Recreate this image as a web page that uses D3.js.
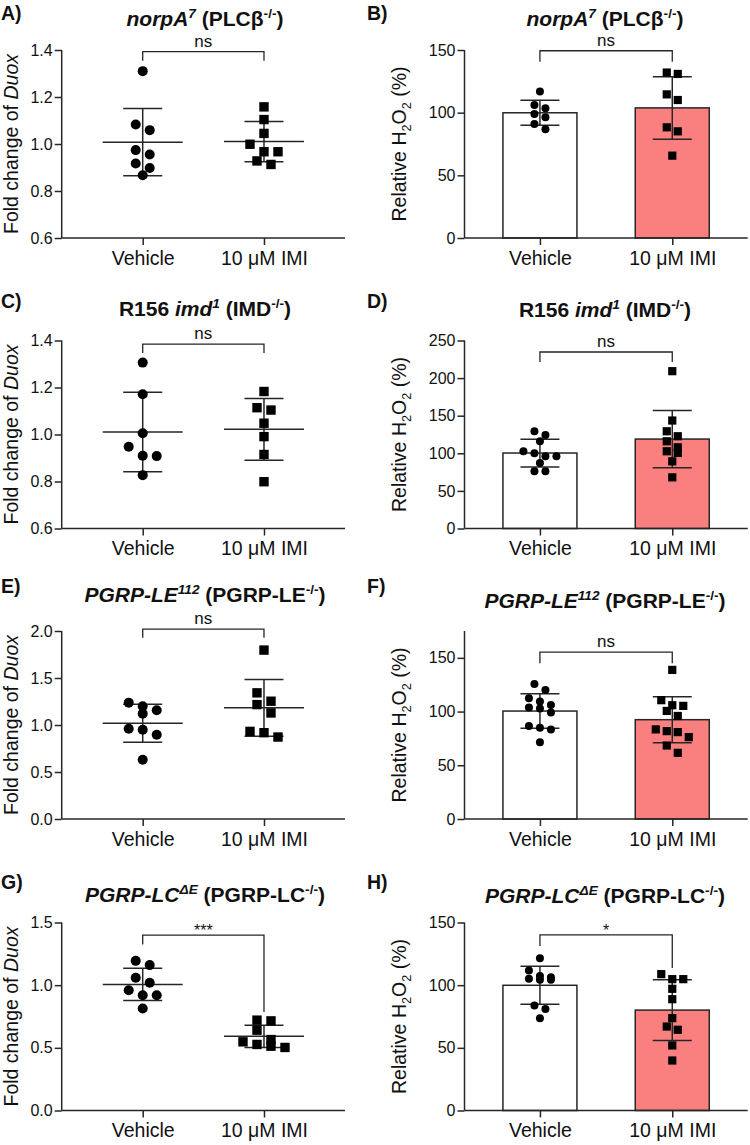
<!DOCTYPE html>
<html><head><meta charset="utf-8">
<script src="https://cdn.jsdelivr.net/npm/d3@7"></script>
<style>
body{margin:0;background:#fff}
svg{display:block}
text{font-family:"Liberation Sans", Arial, Helvetica, sans-serif;fill:#111}
</style>
</head><body>
<svg id="c" width="750" height="1145"></svg>
<script>
// ---------------- DATA ----------------
const categories = ["Vehicle", "10 μM IMI"];
const panelLetters = ["A)", "B)", "C)", "D)", "E)", "F)", "G)", "H)"];

// Fold change of Duox (left column)
const duoxNorpAVehicle = [1.31, 1.083, 1.059, 0.974, 0.955, 0.917, 0.898, 0.867];
const duoxNorpAIMI     = [1.158, 1.104, 1.045, 0.999, 0.967, 0.967, 0.928, 0.913];
const duoxImdVehicle   = [1.306, 1.171, 1.005, 0.948, 0.910, 0.908, 0.827];
const duoxImdIMI       = [1.183, 1.114, 1.104, 1.048, 0.991, 0.915, 0.799];
const duoxLEVehicle    = [1.238, 1.199, 1.157, 1.121, 0.961, 0.950, 0.897, 0.630];
const duoxLEIMI        = [1.797, 1.342, 1.253, 1.217, 1.128, 0.932, 0.918, 0.872];
const duoxLCVehicle    = [1.194, 1.160, 1.059, 1.019, 0.960, 0.920, 0.920, 0.814];
const duoxLCIMI        = [0.721, 0.715, 0.641, 0.566, 0.548, 0.527, 0.513, 0.503];

// Relative H2O2 (%) (right column)
const h2o2NorpAVehicle = [116.8, 106.1, 103.5, 98.9, 96.3, 91.0, 86.7];
const h2o2NorpAIMI     = [132.0, 130.9, 114.6, 110.1, 88.3, 85.1, 65.7];
const h2o2ImdVehicle   = [129.3, 124.5, 116.0, 102.7, 100.0, 96.0, 96.0, 87.2, 76.0, 76.0];
const h2o2ImdIMI       = [209.2, 143.6, 129.3, 122.7, 116.0, 108.0, 102.7, 100.5, 89.3, 68.0];
const h2o2LEVehicle    = [125.6, 120.0, 112.5, 109.4, 106.2, 103.8, 102.8, 99.1, 86.5, 85.0, 83.4, 71.5];
const h2o2LEIMI        = [138.8, 110.6, 105.9, 105.3, 100.6, 95.9, 83.4, 81.8, 80.9, 76.2, 68.4, 61.6];
const h2o2LCVehicle    = [121.5, 111.7, 107.4, 106.4, 105.1, 104.3, 104.3, 83.8, 80.9, 73.7];
const h2o2LCIMI        = [108.8, 104.8, 104.8, 97.1, 88.8, 73.7, 67.0, 64.4, 51.9, 39.9];

// tick labels
const ticksFoldA = [0.6, 0.8, 1.0, 1.2, 1.4];
const ticksFoldE = [0.0, 0.5, 1.0, 1.5, 2.0];
const ticksFoldG = [0.0, 0.5, 1.0, 1.5];
const ticksH150  = [0, 50, 100, 150];
const ticksH250  = [0, 50, 100, 150, 200, 250];

// significance labels [text, bracket level, left drop end, right drop end] in data units
const sigA = ["ns", 1.393, 1.354, 1.354];
const sigB = ["ns", 149.4, 140.7, 140.7];
const sigC = ["ns", 1.385, 1.347, 1.347];
const sigD = ["ns", 234.7, 221.3, 221.3];
const sigE = ["ns", 2.019, 1.929, 1.929];
const sigF = ["ns", 155.3, 145.0, 145.0];
const sigG = ["***", 1.399, 1.324, 0.786];
const sigH = ["*", 140.1, 131.3, 113.6];

// titles: [text, italic, script]
const titleNorpA = [["norpA",1,0],["7",1,"sup"],[" (PLCβ",0,0],["-/-",0,"sup"],[")",0,0]];
const titleImd   = [["R156 ",0,0],["imd",1,0],["1",1,"sup"],[" (IMD",0,0],["-/-",0,"sup"],[")",0,0]];
const titleLE    = [["PGRP-LE",1,0],["112",1,"sup"],[" (PGRP-LE",0,0],["-/-",0,"sup"],[")",0,0]];
const titleLC    = [["PGRP-LC",1,0],["ΔE",1,"sup"],[" (PGRP-LC",0,0],["-/-",0,"sup"],[")",0,0]];
const yLabelDuox = [["Fold change of ",0,0],["Duox",1,0]];
const yLabelH2O2 = [["Relative H",0,0],["2",0,"sub"],["O",0,0],["2",0,"sub"],[" (%)",0,0]];

const panels = [
  {row:0,col:0,title:titleNorpA,ylab:yLabelDuox,domain:[0.6,1.4],ticks:ticksFoldA,fmt:".1f",veh:duoxNorpAVehicle,imi:duoxNorpAIMI,sig:sigA},
  {row:0,col:1,title:titleNorpA,ylab:yLabelH2O2,domain:[0,150],ticks:ticksH150,fmt:"d",veh:h2o2NorpAVehicle,imi:h2o2NorpAIMI,sig:sigB},
  {row:1,col:0,title:titleImd,ylab:yLabelDuox,domain:[0.6,1.4],ticks:ticksFoldA,fmt:".1f",veh:duoxImdVehicle,imi:duoxImdIMI,sig:sigC},
  {row:1,col:1,title:titleImd,ylab:yLabelH2O2,domain:[0,250],ticks:ticksH250,fmt:"d",veh:h2o2ImdVehicle,imi:h2o2ImdIMI,sig:sigD},
  {row:2,col:0,title:titleLE,ylab:yLabelDuox,domain:[0,2.0],ticks:ticksFoldE,fmt:".1f",veh:duoxLEVehicle,imi:duoxLEIMI,sig:sigE},
  {row:2,col:1,title:titleLE,ylab:yLabelH2O2,domain:[0,175],ticks:ticksH150,fmt:"d",veh:h2o2LEVehicle,imi:h2o2LEIMI,sig:sigF},
  {row:3,col:0,title:titleLC,ylab:yLabelDuox,domain:[0,1.5],ticks:ticksFoldG,fmt:".1f",veh:duoxLCVehicle,imi:duoxLCIMI,sig:sigG},
  {row:3,col:1,title:titleLC,ylab:yLabelH2O2,domain:[0,150],ticks:ticksH150,fmt:"d",veh:h2o2LCVehicle,imi:h2o2LCIMI,sig:sigH}
];

// ---------------- LAYOUT ----------------
const colLayout = [
  {axis:61.7, end:345, pad:0.668, labelX:18, titleX:205, letterX:1, marker:10, sq:9.4, spacing:14},
  {axis:464.5, end:747.7, pad:0.57, labelX:406, titleX:605, letterX:367, marker:8, sq:8.2, spacing:11}
];
const rowTop = [50, 340.5, 631, 922.5];
const plotH = 188;
const titleY = [[26,26],[316,317],[601.5,608],[902,902.5]];
const letterY = [20, 308, 593, 888.5];
const ink = "#262626";
const salmon = "#fa8080";

const svg = d3.select("#c");

function rich(sel, parts, size){
  let shift = 0;
  parts.forEach(([t, it, sc]) => {
    const target = sc === "sup" ? -0.38*size : sc === "sub" ? 0.28*size : 0;
    sel.append("tspan")
      .attr("dy", target - shift)
      .attr("font-style", it ? "italic" : "normal")
      .attr("font-size", sc ? size*0.65 : size)
      .text(t);
    shift = target;
  });
}

function swarm(vals, y, size, spacing){
  const pts = vals.map(v => ({v, py:y(v)})).sort((a,b) => a.py - b.py);
  const rows = []; let cur = null;
  pts.forEach(p => {
    if (cur && p.py - cur[0].py < size) cur.push(p);
    else { cur = [p]; rows.push(cur); }
  });
  rows.forEach(r => r.forEach((p,i) => p.dx = (i - (r.length-1)/2) * spacing));
  return pts;
}

panels.forEach((p, idx) => {
  const L = colLayout[p.col];
  const top = rowTop[p.row], bottom = top + plotH;
  const g = svg.append("g");
  const y = d3.scaleLinear().domain(p.domain).range([bottom, top]);
  const x = d3.scalePoint().domain(categories).range([L.axis, L.end]).padding(L.pad);

  // letter
  g.append("text").attr("x", L.letterX).attr("y", letterY[p.row])
    .attr("font-size", 19.5).attr("font-weight", "bold").text(panelLetters[idx]);
  // title
  const tt = g.append("text").attr("x", L.titleX).attr("y", titleY[p.row][p.col])
    .attr("text-anchor", "middle").attr("font-weight", "bold").attr("font-size", 21);
  rich(tt, p.title, 21);
  // y label
  const yl = g.append("text")
    .attr("transform", `translate(${L.labelX},${(top+bottom)/2}) rotate(-90)`)
    .attr("text-anchor", "middle").attr("font-size", 19.5);
  rich(yl, p.ylab, 19.5);

  const isBar = p.col === 1;
  const groups = [p.veh, p.imi];

  // bars
  if (isBar) {
    groups.forEach((vals, i) => {
      const m = d3.mean(vals);
      g.append("rect")
        .attr("x", x(categories[i]) - 37).attr("width", 74)
        .attr("y", y(m)).attr("height", y(0) - y(m))
        .attr("fill", i === 0 ? "#fff" : salmon)
        .attr("stroke", ink).attr("stroke-width", 1.5);
    });
  }

  // axes
  const ya = g.append("g").attr("transform", `translate(${L.axis},0)`)
    .call(d3.axisLeft(y).tickValues(p.ticks).tickFormat(d3.format(p.fmt)).tickSize(7).tickSizeOuter(0).tickPadding(2));
  ya.attr("color", ink);
  ya.selectAll("path,line").attr("stroke-width", 1.5);
  ya.selectAll("text").attr("font-size", 16).attr("font-family", null).style("fill", "#111");

  const xa = g.append("g").attr("transform", `translate(0,${bottom})`)
    .call(d3.axisBottom(x).tickSize(7).tickSizeOuter(0));
  xa.attr("color", ink);
  xa.selectAll("path,line").attr("stroke-width", 1.5);
  xa.selectAll("text").attr("font-size", 19.5).attr("font-family", null)
    .attr("y", 26.5).attr("dy", 0).style("fill", "#111");
  ya.select(".domain").attr("d", `M0,${bottom}V${top}`);
  xa.select(".domain").attr("d", `M${L.axis},0H${L.end}`);

  // error bars
  groups.forEach((vals, i) => {
    const cx = x(categories[i]);
    const m = d3.mean(vals), s = d3.deviation(vals);
    const eg = g.append("g").attr("stroke", ink).attr("stroke-width", 1.5).attr("fill", "none");
    eg.append("line").attr("x1", cx).attr("x2", cx).attr("y1", y(m - s)).attr("y2", y(m + s));
    eg.append("line").attr("x1", cx - 19.5).attr("x2", cx + 19.5).attr("y1", y(m + s)).attr("y2", y(m + s));
    eg.append("line").attr("x1", cx - 19.5).attr("x2", cx + 19.5).attr("y1", y(m - s)).attr("y2", y(m - s));
    if (!isBar) {
      eg.append("line").attr("x1", cx - 40).attr("x2", cx + 40).attr("y1", y(m)).attr("y2", y(m));
    }
  });

  // points
  groups.forEach((vals, i) => {
    const cx = x(categories[i]);
    const pts = swarm(vals, y, L.marker, L.spacing);
    if (i === 0) {
      g.selectAll(null).data(pts).join("circle")
        .attr("cx", d => cx + d.dx).attr("cy", d => d.py).attr("r", L.marker/2).attr("fill", "#000");
    } else {
      g.selectAll(null).data(pts).join("rect")
        .attr("x", d => cx + d.dx - L.sq/2).attr("y", d => d.py - L.sq/2)
        .attr("width", L.sq).attr("height", L.sq).attr("fill", "#000");
    }
  });

  // significance bracket
  const [lab, lv, ll, lr] = p.sig;
  const x0 = x(categories[0]), x1 = x(categories[1]);
  g.append("path")
    .attr("d", `M${x0},${y(ll)}V${y(lv)}H${x1}V${y(lr)}`)
    .attr("fill", "none").attr("stroke", ink).attr("stroke-width", 1.3);
  const isNs = lab === "ns";
  g.append("text").attr("x", (x0 + x1)/2).attr("y", y(lv) + (isNs ? -5 : 1))
    .attr("text-anchor", "middle").attr("font-size", isNs ? 17 : 16)
    .text(lab);
});
</script>
</body></html>
